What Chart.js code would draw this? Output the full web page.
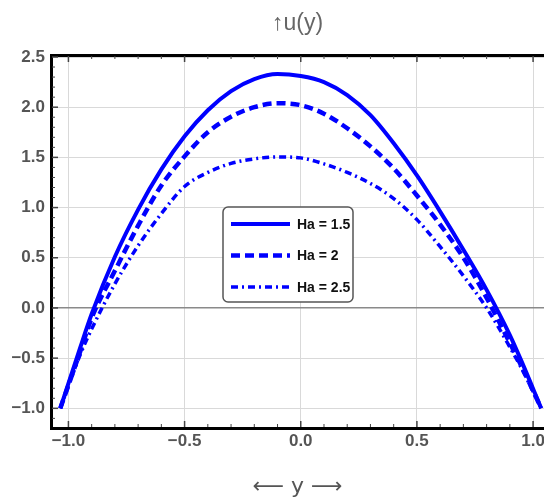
<!DOCTYPE html>
<html>
<head>
<meta charset="utf-8">
<script src="https://cdn.jsdelivr.net/npm/chart.js@4.4.0/dist/chart.umd.min.js"></script>
<style>
  html, body { margin: 0; padding: 0; background: #fff; }
  #wrap { width: 544px; height: 500px; }
</style>
</head>
<body>
<div id="wrap"><canvas id="velocity-chart"></canvas></div>
<script>
// values
const yPos = [-1.035, -0.95, -0.9, -0.8, -0.7, -0.6, -0.5, -0.4, -0.3, -0.2, -0.1, 0,
              0.1, 0.2, 0.3, 0.4, 0.5, 0.6, 0.7, 0.8, 0.9, 0.95, 1.035];
const uHa15 = [-1, -0.40, -0.06, 0.51, 0.98, 1.38, 1.71, 1.97, 2.16, 2.28, 2.33, 2.31,
               2.25, 2.12, 1.92, 1.64, 1.32, 0.96, 0.58, 0.18, -0.27, -0.53, -1];
const uHa2 = [-1, -0.44, -0.10, 0.37, 0.82, 1.22, 1.51, 1.75, 1.905, 2.00, 2.04, 2.02,
              1.935, 1.79, 1.61, 1.39, 1.12, 0.83, 0.50, 0.10, -0.35, -0.58, -1];
const uHa25 = [-1, -0.47, -0.21, 0.24, 0.62, 0.94, 1.21, 1.35, 1.44, 1.485, 1.505, 1.495,
               1.435, 1.35, 1.24, 1.09, 0.88, 0.61, 0.32, 0.0, -0.39, -0.60, -1];
const seriesLabels = ['Ha = 1.5', 'Ha = 2', 'Ha = 2.5'];
const xTicks = [-1, -0.5, 0, 0.5, 1];
const yTicks = [-1, -0.5, 0, 0.5, 1, 1.5, 2, 2.5];

function pts(vals) {
    return yPos.map((x, i) => ({ x: x, y: vals[i] }));
}

function fmt(v) {
    let s = Number(v).toFixed(1);
    return s.replace('-', '\u2212');
}

const tickFont = { family: 'Liberation Sans, Arial, sans-serif', size: 17, weight: 'bold' };
const tickColor = '#555';

// little tick marks along the frame (every 0.1)
const frameTicks = {
    id: 'frameTicks',
    afterDraw(chart) {
        const c = chart.ctx;
        const a = chart.chartArea;
        const xs = chart.scales.x;
        const ys = chart.scales.y;
        c.save();
        c.strokeStyle = '#444';
        for (let k = -10; k <= 10; k++) {
            const px = xs.getPixelForValue(k / 10);
            const len = (k % 5 === 0) ? 6 : 3;
            c.lineWidth = (k % 5 === 0) ? 1.5 : 1;
            c.beginPath();
            c.moveTo(px, a.bottom - 1); c.lineTo(px, a.bottom - 1 - len);
            c.moveTo(px, a.top + 1); c.lineTo(px, a.top + 1 + len);
            c.stroke();
        }
        for (let k = -11; k <= 25; k++) {
            const py = ys.getPixelForValue(k / 10);
            const len = (k % 5 === 0) ? 6 : 3;
            c.lineWidth = (k % 5 === 0) ? 1.5 : 1;
            c.beginPath();
            c.moveTo(a.left + 1, py); c.lineTo(a.left + 1 + len, py);
            c.stroke();
        }
        c.restore();
    }
};

// boxed legend sitting inside the plot
const insideLegend = {
    id: 'insideLegend',
    afterDraw(chart) {
        const c = chart.ctx;
        const bx = 223, by = 207, bw = 130, bh = 95;
        c.save();
        c.fillStyle = '#fff';
        c.strokeStyle = '#555';
        c.lineWidth = 1.5;
        c.beginPath();
        c.roundRect(bx, by, bw, bh, 5);
        c.fill();
        c.stroke();
        chart.data.datasets.forEach((ds, i) => {
            const ry = by + 17 + i * 31.5;
            c.strokeStyle = ds.borderColor;
            c.lineWidth = ds.borderWidth;
            c.setLineDash(ds.borderDash || []);
            c.beginPath();
            c.moveTo(bx + 8, ry);
            c.lineTo(bx + 67, ry);
            c.stroke();
            c.setLineDash([]);
            c.fillStyle = '#111';
            c.font = 'bold 14px "Liberation Sans Narrow", "Liberation Sans", Arial, sans-serif';
            c.textBaseline = 'middle';
            c.fillText(ds.label, bx + 74, ry + 1);
        });
        c.restore();
    }
};

const ctx = document.getElementById('velocity-chart').getContext('2d');
const myChart = new Chart(ctx, {
    type: 'line',
    data: {
        datasets: [{
            label: seriesLabels[0],
            data: pts(uHa15),
            borderColor: '#0000ff',
            borderWidth: 4,
            pointRadius: 0,
            cubicInterpolationMode: 'monotone'
        }, {
            label: seriesLabels[1],
            data: pts(uHa2),
            borderColor: '#0000ff',
            borderWidth: 4.5,
            borderDash: [9, 5],
            pointRadius: 0,
            cubicInterpolationMode: 'monotone'
        }, {
            label: seriesLabels[2],
            data: pts(uHa25),
            borderColor: '#0000ff',
            borderWidth: 3.5,
            borderDash: [7, 4, 2, 4],
            pointRadius: 0,
            cubicInterpolationMode: 'monotone'
        }]
    },
    options: {
        responsive: true,
        maintainAspectRatio: false,
        animation: false,
        layout: { padding: 0 },
        plugins: {
            legend: { display: false },
            tooltip: { enabled: false }
        },
        scales: {
            x: {
                type: 'linear',
                position: 'bottom',
                min: -1.075,
                max: 1.047,
                afterBuildTicks: s => { s.ticks = xTicks.map(v => ({ value: v })); },
                afterFit: s => { s.height = 72; s.paddingLeft = 0; s.paddingRight = 0; },
                grid: { color: '#d9d9d9', lineWidth: 1, drawTicks: false },
                border: { display: true, color: '#000', width: 3 },
                ticks: { padding: 3, font: tickFont, color: tickColor, callback: fmt, maxRotation: 0 },
                title: {
                    display: true,
                    text: '\u27f5 y \u27f6',
                    font: { family: 'DejaVu Sans, sans-serif', size: 22 },
                    color: '#555',
                    padding: { top: 10, bottom: 0 }
                }
            },
            x2: {
                type: 'linear',
                position: 'top',
                min: -1.075,
                max: 1.047,
                afterFit: s => { s.height = 55; s.paddingLeft = 0; s.paddingRight = 0; },
                grid: { display: false },
                border: { display: true, color: '#000', width: 3 },
                ticks: { display: false },
                title: {
                    display: true,
                    text: '\u2191u(y)',
                    font: { family: 'Liberation Sans, Arial, sans-serif', size: 23 },
                    color: '#666',
                    padding: { top: 10, bottom: 0 }
                }
            },
            y: {
                type: 'linear',
                min: -1.196,
                max: 2.52,
                afterBuildTicks: s => { s.ticks = yTicks.map(v => ({ value: v })); },
                afterFit: s => { s.width = 51; },
                grid: {
                    color: c => (c.tick && c.tick.value === 0) ? '#8a8a8a' : '#d9d9d9',
                    lineWidth: c => (c.tick && c.tick.value === 0) ? 1.5 : 1,
                    drawTicks: false
                },
                border: { display: true, color: '#000', width: 3 },
                ticks: { padding: 6, font: tickFont, color: tickColor, callback: fmt }
            }
        }
    },
    plugins: [frameTicks, insideLegend]
});
</script>
</body>
</html>
